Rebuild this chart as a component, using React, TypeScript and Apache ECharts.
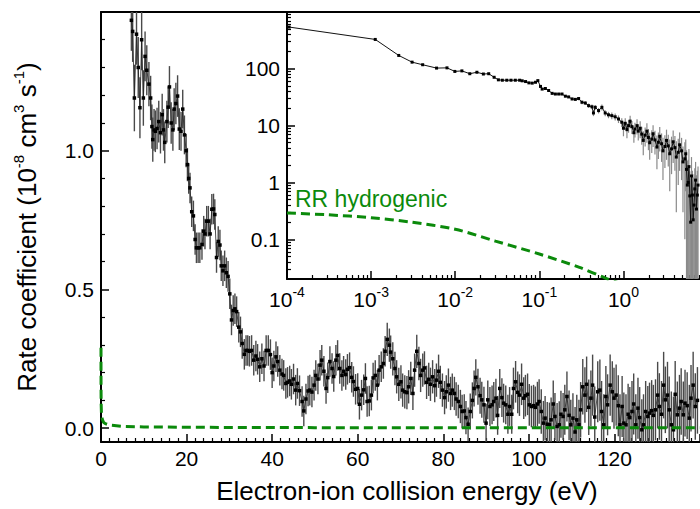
import React, { useEffect, useRef } from 'react';
import * as echarts from 'echarts';

const FONT = '"Liberation Sans", Arial, Helvetica, sans-serif';
const GREEN = '#0b8a0b';

// main panel: [electron-ion collision energy (eV), rate coefficient, error]
const mainData: number[][] = [
  [7.1, 1.47, 0.11], [7.4, 1.43, 0.11], [7.8, 1.19, 0.12], [8.3, 1.42, 0.11], [8.7, 1.30, 0.11],
  [9.1, 1.155, 0.11], [9.5, 1.40, 0.11], [9.9, 1.19, 0.10], [10.3, 1.34, 0.09], [10.7, 1.29, 0.09],
  [11.2, 1.24, 0.08], [11.6, 1.19, 0.08], [11.9, 1.087, 0.08], [12.1, 1.04, 0.08], [12.4, 1.075, 0.075],
  [12.7, 1.07, 0.075], [13.1, 1.08, 0.075], [13.5, 1.105, 0.075], [13.9, 1.065, 0.075], [14.3, 1.13, 0.075],
  [14.6, 1.075, 0.075], [14.9, 1.03, 0.075], [15.4, 1.105, 0.075], [15.7, 1.157, 0.075], [16.0, 1.23, 0.075],
  [16.4, 1.10, 0.075], [16.8, 1.075, 0.075], [17.1, 1.15, 0.075], [17.5, 1.17, 0.075], [17.9, 1.197, 0.075],
  [18.3, 1.078, 0.075], [18.7, 1.07, 0.07], [19.1, 1.15, 0.07], [19.5, 1.057, 0.07], [19.9, 1.0, 0.06],
  [20.2, 0.95, 0.06], [20.5, 0.90, 0.055], [20.8, 0.866, 0.055], [21.2, 0.78, 0.055], [21.6, 0.765, 0.055],
  [22.0, 0.68, 0.055], [22.3, 0.65, 0.055], [22.7, 0.65, 0.055], [23.1, 0.65, 0.055], [23.6, 0.662, 0.055],
  [24.0, 0.71, 0.055], [24.3, 0.70, 0.055], [24.7, 0.746, 0.055], [25.1, 0.746, 0.055], [25.5, 0.70, 0.055],
  [25.9, 0.789, 0.055], [26.3, 0.79, 0.055], [26.6, 0.77, 0.055], [27.0, 0.615, 0.055], [27.4, 0.673, 0.055],
  [27.8, 0.66, 0.055], [28.1, 0.585, 0.055], [28.5, 0.567, 0.055], [28.9, 0.585, 0.055], [29.3, 0.56, 0.055],
  [29.7, 0.547, 0.055], [30.1, 0.484, 0.055], [30.5, 0.39, 0.055], [30.9, 0.424, 0.055], [31.3, 0.43, 0.055],
  [31.7, 0.42, 0.055], [32.2, 0.364, 0.055], [32.6, 0.347, 0.055], [33.0, 0.305, 0.055], [33.5, 0.266, 0.055],
  [33.9, 0.28, 0.055], [34.3, 0.28, 0.055], [34.7, 0.277, 0.055], [35.2, 0.28, 0.055], [35.7, 0.245, 0.055],
  [36.2, 0.26, 0.055], [36.6, 0.248, 0.055], [37.1, 0.221, 0.055], [37.6, 0.25, 0.055], [38.1, 0.224, 0.055],
  [38.6, 0.28, 0.055], [39.1, 0.28, 0.055], [39.6, 0.265, 0.055], [40.0, 0.2, 0.055], [40.4, 0.224, 0.055],
  [40.9, 0.257, 0.055], [41.3, 0.24, 0.055], [41.8, 0.209, 0.055], [42.3, 0.195, 0.055], [42.7, 0.19, 0.055],
  [43.2, 0.161, 0.055], [43.6, 0.165, 0.055], [44.1, 0.17, 0.055], [44.5, 0.158, 0.055], [45.0, 0.177, 0.055],
  [45.5, 0.137, 0.055], [45.9, 0.161, 0.055], [46.4, 0.135, 0.055], [47.0, 0.096, 0.055], [47.4, 0.062, 0.055],
  [47.9, 0.105, 0.055], [48.4, 0.134, 0.055], [48.8, 0.137, 0.055], [49.3, 0.13, 0.055], [49.8, 0.155, 0.055],
  [50.2, 0.19, 0.055], [50.7, 0.177, 0.055], [51.2, 0.227, 0.055], [51.6, 0.245, 0.055], [52.1, 0.205, 0.055],
  [52.6, 0.143, 0.055], [53.0, 0.182, 0.055], [53.5, 0.24, 0.055], [54.0, 0.215, 0.055], [54.4, 0.186, 0.055],
  [54.9, 0.245, 0.055], [55.3, 0.262, 0.055], [55.8, 0.215, 0.055], [56.3, 0.19, 0.055], [56.7, 0.205, 0.055],
  [57.2, 0.193, 0.055], [57.6, 0.212, 0.055], [58.1, 0.218, 0.055], [58.6, 0.183, 0.055], [59.0, 0.168, 0.055],
  [59.5, 0.14, 0.055], [60.0, 0.143, 0.055], [60.4, 0.086, 0.055], [60.9, 0.119, 0.055], [61.4, 0.138, 0.055],
  [61.8, 0.179, 0.055], [62.2, 0.096, 0.055], [62.7, 0.098, 0.055], [63.2, 0.119, 0.055], [63.6, 0.181, 0.055],
  [64.1, 0.19, 0.055], [64.6, 0.155, 0.055], [65.0, 0.209, 0.055], [65.5, 0.221, 0.055], [66.0, 0.233, 0.055],
  [66.4, 0.277, 0.055], [66.9, 0.32, 0.06], [67.4, 0.299, 0.06], [67.7, 0.274, 0.06], [68.2, 0.25, 0.06],
  [68.7, 0.215, 0.06], [69.1, 0.185, 0.06], [69.6, 0.158, 0.06], [70.1, 0.167, 0.06], [70.5, 0.137, 0.06],
  [71.0, 0.131, 0.06], [71.5, 0.128, 0.06], [71.9, 0.149, 0.06], [72.4, 0.179, 0.06], [72.9, 0.125, 0.06],
  [73.3, 0.209, 0.06], [73.8, 0.277, 0.06], [74.3, 0.233, 0.06], [74.7, 0.19, 0.06], [75.2, 0.209, 0.06],
  [75.6, 0.217, 0.06], [76.1, 0.165, 0.06], [76.6, 0.176, 0.06], [77.0, 0.158, 0.06], [77.5, 0.185, 0.06],
  [78.0, 0.153, 0.06], [78.4, 0.173, 0.06], [78.9, 0.205, 0.06], [79.3, 0.165, 0.06], [79.8, 0.137, 0.06],
  [80.3, 0.11, 0.06], [80.7, 0.131, 0.06], [81.2, 0.155, 0.06], [81.7, 0.125, 0.06], [82.1, 0.137, 0.06],
  [82.6, 0.125, 0.06], [83.0, 0.105, 0.06], [83.5, 0.096, 0.06], [84.0, 0.078, 0.06], [84.4, 0.06, 0.06],
  [84.9, 0.062, 0.06], [85.3, 0.038, 0.06], [85.8, 0.014, 0.06], [86.3, 0.06, 0.065], [86.8, 0.1, 0.065],
  [87.2, 0.143, 0.065], [87.6, 0.183, 0.065], [88.1, 0.149, 0.065], [88.6, 0.117, 0.065], [89.0, 0.102, 0.065],
  [89.5, 0.084, 0.065], [90.0, 0.018, 0.07], [90.4, 0.102, 0.07], [90.9, 0.078, 0.07], [91.4, 0.084, 0.07],
  [91.8, 0.096, 0.07], [92.3, 0.108, 0.07], [92.7, 0.046, 0.07], [93.2, 0.143, 0.07], [93.7, 0.11, 0.07],
  [94.1, 0.09, 0.07], [94.6, 0.084, 0.07], [95.1, 0.05, 0.07], [95.5, 0.078, 0.07], [96.0, 0.05, 0.07],
  [96.4, 0.143, 0.075], [96.9, 0.167, 0.075], [97.4, 0.129, 0.075], [97.8, 0.119, 0.075], [98.3, 0.158, 0.075],
  [98.8, 0.108, 0.075], [99.2, 0.117, 0.075], [99.7, 0.122, 0.075], [100.1, 0.084, 0.075], [100.6, 0.078, 0.075],
  [101.1, 0.081, 0.075], [101.5, 0.075, 0.075], [102.0, 0.087, 0.08], [102.4, 0.096, 0.08], [102.9, 0.06, 0.08],
  [103.4, 0.018, 0.08], [103.8, 0.036, 0.08], [104.3, 0.014, 0.08], [104.8, 0.012, 0.08], [105.2, 0.03, 0.08],
  [105.7, 0.087, 0.085], [106.1, 0.042, 0.085], [106.6, 0.006, 0.085], [107.1, 0.012, 0.085], [107.5, 0.05, 0.085],
  [108.0, 0.042, 0.085], [108.4, 0.066, 0.09], [108.9, 0.114, 0.09], [109.4, 0.046, 0.09], [109.8, 0.012, 0.09],
  [110.3, 0.036, 0.09], [110.8, -0.014, 0.09], [111.2, 0.03, 0.09], [111.7, 0.012, 0.09], [112.1, 0.066, 0.1],
  [112.6, 0.149, 0.1], [113.1, 0.119, 0.1], [113.5, 0.158, 0.1], [114.0, 0.075, 0.1], [114.5, 0.108, 0.1],
  [114.9, 0.155, 0.11], [115.4, 0.04, 0.11], [116.1, 0.131, 0.11], [116.6, 0.137, 0.11], [117.0, 0.06, 0.11],
  [117.5, 0.012, 0.11], [118.0, 0.114, 0.11], [118.4, 0.084, 0.11], [119.0, 0.155, 0.11], [119.5, 0.131, 0.11],
  [119.9, 0.108, 0.11], [120.4, 0.119, 0.11], [120.9, 0.081, 0.11], [121.3, 0.012, 0.11], [121.8, 0.078, 0.11],
  [122.2, 0.018, 0.11], [122.7, 0.012, 0.11], [123.2, 0.05, 0.11], [123.6, 0.038, 0.11], [124.1, 0.06, 0.11],
  [124.5, 0.087, 0.11], [125.0, 0.012, 0.11], [125.5, 0.072, 0.11], [125.9, 0.038, 0.11], [126.4, -0.006, 0.11],
  [126.8, 0.012, 0.11], [127.3, 0.06, 0.11], [127.8, 0.042, 0.11], [128.2, 0.054, 0.11], [128.7, 0.063, 0.11],
  [129.1, 0.046, 0.11], [129.6, 0.066, 0.11], [130.1, 0.119, 0.12], [130.5, 0.078, 0.12], [131.0, 0.05, 0.12],
  [131.5, 0.155, 0.12], [131.9, 0.102, 0.12], [132.4, 0.119, 0.12], [132.8, 0.066, 0.12], [133.3, 0.012, 0.12],
  [133.8, -0.006, 0.12], [134.2, 0.122, 0.12], [134.7, 0.048, 0.12], [135.2, 0.072, 0.12], [135.6, 0.096, 0.12],
  [136.1, 0.048, 0.12], [136.5, 0.09, 0.12], [137.0, 0.081, 0.12], [137.5, 0.036, 0.12], [137.9, 0.108, 0.12],
  [138.4, 0.155, 0.12], [138.9, 0.078, 0.12], [139.4, 0.1, 0.12],
];

// inset (log-log): [energy (eV), rate, error]
const insetData: number[][] = [
  [1.06e-4, 543, 8], [1.12e-3, 329, 6], [2.13e-3, 172, 4], [3.07e-3, 131, 3], [4.1e-3, 118, 3],
  [6.0e-3, 103, 2], [7.98e-3, 104, 2], [9.9e-3, 90, 2], [0.012, 92, 2], [0.0149, 82, 2],
  [0.0181, 87, 2], [0.0216, 81, 2], [0.025, 82, 2], [0.029, 71, 2], [0.0326, 64, 1.5],
  [0.0363, 63, 1.5], [0.041, 63, 1.5], [0.046, 63, 1.5], [0.0518, 63, 1.5], [0.0583, 63, 1.5],
  [0.0625, 61.5, 1.5], [0.0686, 59.7, 1.5], [0.0751, 56.6, 1.5], [0.0822, 56, 1.5], [0.0901, 58, 1.5],
  [0.096, 62, 1.5], [0.1032, 49, 1.5], [0.108, 44, 1.5], [0.118, 45, 1.5], [0.129, 41.5, 1.5],
  [0.142, 37, 1.5], [0.155, 36, 1.5], [0.17, 36, 1.5], [0.186, 36, 1.5], [0.204, 33, 1.5],
  [0.223, 32, 1.5], [0.245, 29.5, 1.5], [0.268, 29, 1.5], [0.293, 30, 2], [0.321, 25.8, 2],
  [0.352, 25, 2], [0.385, 22.5, 2], [0.422, 21.5, 2], [0.44, 16.7, 2], [0.462, 21, 2],
  [0.506, 18.4, 2], [0.554, 21, 2.5], [0.607, 16.7, 2], [0.664, 15.5, 2], [0.727, 15, 2],
  [0.797, 14.3, 2], [0.873, 13.1, 2], [0.955, 11.5, 2], [1.0, 9.0, 2.5], [1.05, 11, 2.5],
  [1.1, 8.5, 2.5], [1.15, 10, 2.5], [1.2, 12, 3], [1.26, 9.6, 2.5], [1.33, 7.5, 2.5],
  [1.37, 8.7, 2.5], [1.45, 10, 3], [1.5, 8, 2.5], [1.58, 9, 3], [1.65, 7.1, 2.5],
  [1.72, 5.5, 2.5], [1.81, 6.8, 2.5], [1.9, 8, 3], [1.98, 6.2, 2.5], [2.05, 5, 2.5],
  [2.17, 5.8, 2.5], [2.25, 7.2, 3], [2.37, 5.6, 2.5], [2.5, 4.2, 2.5], [2.6, 5.1, 2.5],
  [2.7, 6.5, 3], [2.84, 4.8, 2.5], [2.95, 3.6, 2.5], [3.11, 4.3, 2.5], [3.25, 5.5, 3],
  [3.41, 4.4, 2.5], [3.55, 3.2, 2.5], [3.73, 3.9, 2.5], [3.9, 5.2, 3], [4.09, 4.1, 2.5],
  [4.25, 2.8, 2.5], [4.48, 3.4, 2.5], [4.65, 4.6, 3], [4.91, 3.6, 2.5], [5.1, 2.3, 2],
  [5.37, 2.6, 2.5], [5.5, 3.2, 2.5], [5.62, 1.7, 2], [5.75, 0.9, 1.5], [5.88, 1.0, 1.5],
  [6.0, 1.9, 2], [6.15, 0.58, 1], [6.3, 0.2, 1], [6.44, 1.3, 1.5], [6.6, 0.6, 1],
  [6.74, 0.22, 1], [6.9, 0.4, 1], [7.05, 0.77, 1], [7.2, 1.1, 1.2], [7.38, 0.34, 1],
  [7.55, 0.6, 1], [7.7, 0.9, 1],
];

// RR hydrogenic (green dashed)
const rrEnergy = [1e-4, 3e-4, 1e-3, 3e-3, 1e-2, 3e-2, 0.1, 0.3, 0.6, 1, 2, 5, 10, 20, 50, 100, 140];
const rrRate = [0.29, 0.27, 0.24, 0.2, 0.15, 0.093, 0.055, 0.032, 0.021, 0.016, 0.011, 0.0065, 0.0045, 0.003, 0.0018, 0.0012, 0.001];

// tick values
const mainYLabels = [0, 0.5, 1.0];
const mainYMajorTicks = [0, 0.5, 1.0, 1.5];
const mainYMinorTicks = [0.1, 0.2, 0.3, 0.4, 0.6, 0.7, 0.8, 0.9, 1.1, 1.2, 1.3, 1.4];
const insetXDecades = [-4, -3, -2, -1, 0];
const insetYDecades = [-1, 0, 1, 2];
const insetYMajorTicks = [-1, 0, 1, 2, 3];
const minorMultipliers = [2, 3, 4, 5, 6, 7, 8, 9];

const INSET_X_MAX = 0.91;
const INSET_Y_MIN = Math.log10(0.02);
const INSET_Y_MAX = 3;

function logMinor(decades: number[], lo: number, hi: number) {
  const out: number[] = [];
  decades.forEach((d) => minorMultipliers.forEach((k) => {
    const v = Math.log10(k) + d;
    if (v > lo + 1e-3 && v < hi - 1e-3) out.push(v);
  }));
  return out;
}

function buildOption() {
  const black = '#000';
  const axisLine = { show: true, onZero: false, lineStyle: { color: black, width: 2 } };
  const hiddenLine = { show: false, onZero: false };
  const noSplit = { show: false };
  const labelBase = { color: black, fontFamily: FONT, fontSize: 21 };
  const insetXMinor = logMinor([-4, -3, -2, -1, 0], -4, INSET_X_MAX);
  const insetYMinor = logMinor([-2, -1, 0, 1, 2], INSET_Y_MIN, INSET_Y_MAX);
  const L10 = Math.log10;

  const errRender = (stroke: string, width: number) => (params: any, api: any) => {
    const x = api.value(0);
    const p1 = api.coord([x, api.value(1)]);
    const p2 = api.coord([x, api.value(2)]);
    return {
      type: 'line',
      shape: { x1: p1[0], y1: p1[1], x2: p2[0], y2: p2[1] },
      style: { stroke, lineWidth: width },
    };
  };

  return {
    animation: false,
    backgroundColor: '#fff',
    textStyle: { fontFamily: FONT },
    grid: [
      { left: 101, top: 12, right: -2, bottom: 65, containLabel: false },
      { left: 287, top: 12, right: -2, height: 267, containLabel: false },
    ],
    xAxis: [
      {
        type: 'value', gridIndex: 0, position: 'bottom', min: 0, max: 140, interval: 20,
        axisLine,
        axisTick: { show: true, inside: true, length: 8, lineStyle: { color: black, width: 1.5 } },
        minorTick: { show: true, splitNumber: 10, length: 4, lineStyle: { color: black, width: 1.2 } },
        axisLabel: { ...labelBase, margin: 6, showMaxLabel: false },
        splitLine: noSplit, minorSplitLine: noSplit,
        name: 'Electron-ion collision energy (eV)', nameLocation: 'middle', nameGap: 36,
        nameTextStyle: { color: black, fontFamily: FONT, fontSize: 26, padding: [0, 0, 0, 13] },
      },
      {
        type: 'value', gridIndex: 0, position: 'top', min: 0, max: 140,
        axisLine, axisTick: { show: false }, axisLabel: { show: false }, splitLine: noSplit,
      },
      {
        type: 'value', gridIndex: 1, position: 'bottom', min: -4, max: INSET_X_MAX,
        axisLine,
        axisTick: { show: true, inside: true, length: 8, customValues: insetXDecades, lineStyle: { color: black, width: 1.5 } },
        axisLabel: {
          customValues: insetXDecades, margin: 6,
          formatter: (v: number) => `{b|10}{s|${Math.round(v)}}`,
          rich: {
            b: { ...labelBase, lineHeight: 28 },
            s: { color: black, fontFamily: FONT, fontSize: 14, lineHeight: 14, verticalAlign: 'top' },
          },
        },
        splitLine: noSplit,
      },
      {
        type: 'value', gridIndex: 1, position: 'bottom', min: -4, max: INSET_X_MAX,
        axisLine: hiddenLine,
        axisTick: { show: true, inside: true, length: 4, customValues: insetXMinor, lineStyle: { color: black, width: 1.2 } },
        axisLabel: { show: false }, splitLine: noSplit,
      },
    ],
    yAxis: [
      {
        type: 'value', gridIndex: 0, position: 'left', min: -0.05, max: 1.5,
        axisLine,
        axisTick: { show: true, inside: true, length: 8, customValues: mainYMajorTicks, lineStyle: { color: black, width: 1.5 } },
        axisLabel: { ...labelBase, margin: 7, customValues: mainYLabels, formatter: (v: number) => v.toFixed(1) },
        splitLine: noSplit,
        name: '{n|Rate coefficient (10}{s|-8}{n| cm}{s|3}{n| s}{s|-1}{n|)}',
        nameLocation: 'middle', nameRotate: 90, nameGap: 58,
        nameTextStyle: {
          color: black, fontFamily: FONT,
          rich: {
            n: { color: black, fontFamily: FONT, fontSize: 26, lineHeight: 32 },
            s: { color: black, fontFamily: FONT, fontSize: 15, lineHeight: 20, verticalAlign: 'top' },
          },
        },
      },
      {
        type: 'value', gridIndex: 0, position: 'left', min: -0.05, max: 1.5,
        axisLine: hiddenLine,
        axisTick: { show: true, inside: true, length: 4, customValues: mainYMinorTicks, lineStyle: { color: black, width: 1.2 } },
        axisLabel: { show: false }, splitLine: noSplit,
      },
      {
        type: 'value', gridIndex: 1, position: 'left', min: INSET_Y_MIN, max: INSET_Y_MAX,
        axisLine,
        axisTick: { show: true, inside: true, length: 8, customValues: insetYMajorTicks, lineStyle: { color: black, width: 1.5 } },
        axisLabel: { ...labelBase, margin: 7, customValues: insetYDecades, formatter: (v: number) => String(Math.pow(10, Math.round(v))) },
        splitLine: noSplit,
      },
      {
        type: 'value', gridIndex: 1, position: 'left', min: INSET_Y_MIN, max: INSET_Y_MAX,
        axisLine: hiddenLine,
        axisTick: { show: true, inside: true, length: 4, customValues: insetYMinor, lineStyle: { color: black, width: 1.2 } },
        axisLabel: { show: false }, splitLine: noSplit,
      },
    ],
    series: [
      {
        type: 'custom', name: 'main-err', xAxisIndex: 0, yAxisIndex: 0, clip: true, silent: true, z: 1,
        data: mainData.map((d) => [d[0], d[1] - d[2], d[1] + d[2]]),
        encode: { x: 0, y: [1, 2] },
        renderItem: errRender('#4a4a4a', 1.4),
      },
      {
        type: 'line', name: 'main', xAxisIndex: 0, yAxisIndex: 0, z: 3,
        data: mainData.map((d) => [d[0], d[1]]),
        symbol: 'rect', symbolSize: 3.5, showSymbol: true,
        itemStyle: { color: '#000' }, lineStyle: { color: '#222', width: 0.8 },
      },
      {
        type: 'line', name: 'rr-main', xAxisIndex: 0, yAxisIndex: 0, z: 4,
        data: rrEnergy.map((e, i) => [e, rrRate[i]]),
        showSymbol: false, symbol: 'none',
        lineStyle: { color: GREEN, width: 3, type: [9, 5] },
      },
      {
        type: 'custom', name: 'inset-err', xAxisIndex: 2, yAxisIndex: 2, clip: true, silent: true, z: 1,
        data: insetData.map((d) => [L10(d[0]), d[1] - d[2] > 0 ? L10(d[1] - d[2]) : -4, L10(d[1] + d[2])]),
        encode: { x: 0, y: [1, 2] },
        renderItem: errRender('#8a8a8a', 1.2),
      },
      {
        type: 'line', name: 'inset', xAxisIndex: 2, yAxisIndex: 2, z: 3,
        data: insetData.map((d) => [L10(d[0]), L10(d[1])]),
        symbol: 'rect', symbolSize: 3, showSymbol: true,
        itemStyle: { color: '#000' }, lineStyle: { color: '#111', width: 1 },
      },
      {
        type: 'line', name: 'rr-inset', xAxisIndex: 2, yAxisIndex: 2, z: 4, smooth: 0.3,
        data: rrEnergy.map((e, i) => [L10(e), L10(rrRate[i])]),
        showSymbol: false, symbol: 'none',
        lineStyle: { color: GREEN, width: 3, type: [9, 5] },
      },
    ],
    graphic: [
      {
        type: 'text', x: 295, y: 199, z: 10,
        style: { text: 'RR hydrogenic', fill: GREEN, fontSize: 23, fontFamily: FONT, verticalAlign: 'middle' },
      },
    ],
  };
}

export default function App() {
  const ref = useRef<HTMLDivElement>(null);
  useEffect(() => {
    if (!ref.current) return;
    const chart = echarts.init(ref.current, null, { renderer: 'svg' });
    chart.setOption(buildOption() as any);
    return () => chart.dispose();
  }, []);
  return (
    <div
      ref={ref}
      style={{ position: 'fixed', left: 0, top: 0, width: 700, height: 509, background: '#fff', overflow: 'hidden' }}
    />
  );
}
